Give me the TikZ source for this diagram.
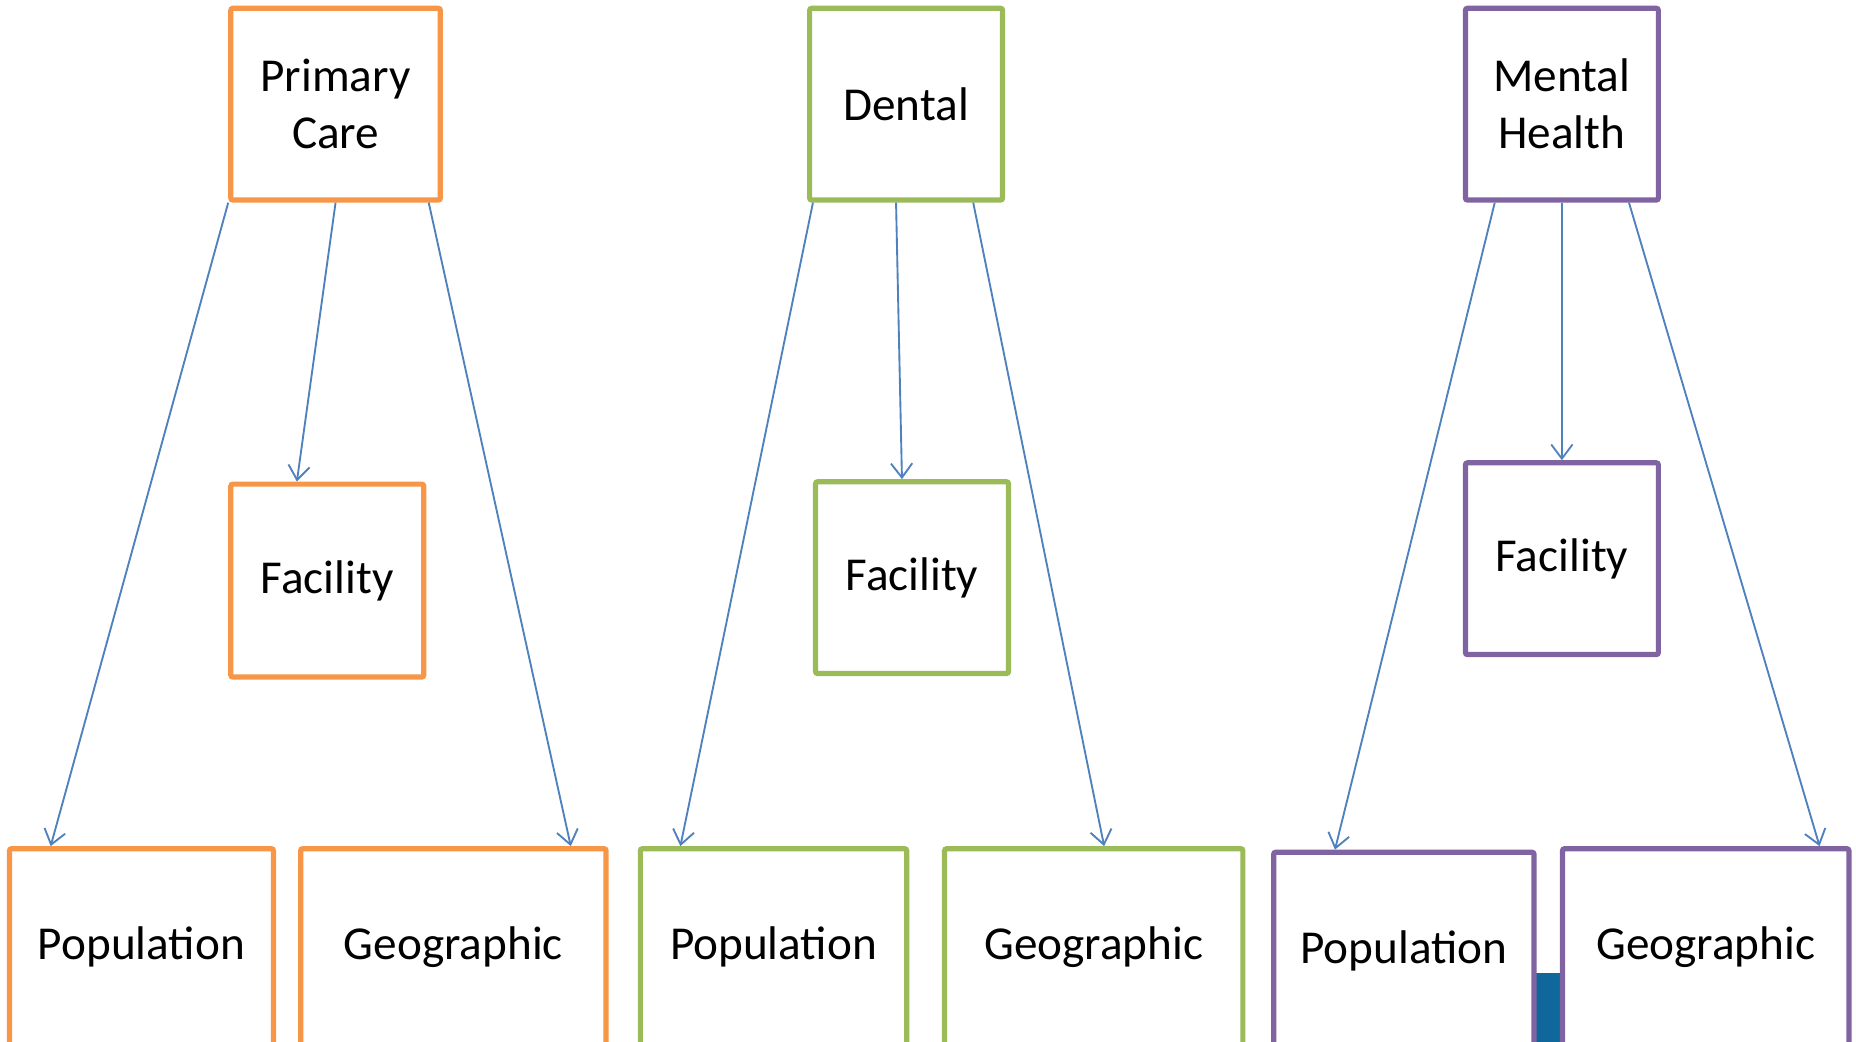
\documentclass[tikz,border=0pt]{standalone}
\usepackage{fontspec}
\setmainfont{Carlito}
\usetikzlibrary{arrows.meta,calc}
\definecolor{pcorange}{HTML}{F79646}
\definecolor{dngreen}{HTML}{9BBB59}
\definecolor{mhpurple}{HTML}{8064A2}
\definecolor{linkblue}{HTML}{4F81BD}
\definecolor{darkblue}{HTML}{10679C}
\begin{document}
\begin{tikzpicture}[
	box/.style={draw, line width=2.5pt, rounded corners=1pt, fill=white, align=center, inner sep=0pt,
		font=\fontsize{22.7}{27.3}\selectfont},
	link/.style={draw=linkblue, line width=0.9pt, ->},
	>={Straight Barb[length=0.24cm, width=0.36cm]}]
	\useasboundingbox (0,0) rectangle (31.36,-17.6);

	%primary care
	\begin{scope}[every node/.append style={box, draw=pcorange}]
		\node[minimum width=3.54cm, minimum height=3.24cm] (pc) at (5.67,-1.76) {Primary\\Care};
		\node[minimum width=3.26cm, minimum height=3.26cm] (pcfac) at (5.53,-9.81) {Facility};
		\node[minimum width=4.46cm, minimum height=3.32cm] (pcpop) at (2.39,-16.0) {Population};
		\node[minimum width=5.16cm, minimum height=3.32cm] (pcgeo) at (7.66,-16.0) {Geographic};
	\end{scope}
	\draw[link] (pc.south west) -- ($(pcpop.north west)+(0.74,0)$);
	\draw[link] (pc.south) -- ($(pcfac.north west)+(1.16,0)$);
	\draw[link] ($(pc.south east)+(-0.24,0)$) -- ($(pcgeo.north east)+(-0.64,0)$);

	%dental
	\begin{scope}[every node/.append style={box, draw=dngreen}]
		\node[minimum width=3.26cm, minimum height=3.24cm] (dn) at (15.31,-1.76) {Dental};
		\node[minimum width=3.26cm, minimum height=3.24cm] (dnfac) at (15.41,-9.76) {Facility};
		\node[minimum width=4.50cm, minimum height=3.32cm] (dnpop) at (13.07,-16.0) {Population};
		\node[minimum width=5.04cm, minimum height=3.32cm] (dngeo) at (18.48,-16.0) {Geographic};
	\end{scope}
	\draw[link] ($(dn.south west)+(0.1,0)$) -- ($(dnpop.north west)+(0.72,0)$);
	\draw[link] ($(dn.south)+(-0.17,0)$) -- ($(dnfac.north)+(-0.17,0)$);
	\draw[link] ($(dn.south east)+(-0.54,0)$) -- ($(dngeo.north west)+(2.74,0)$);

	%mental health
	\fill[darkblue] (25.92,-16.44) rectangle (26.40,-18.2);
	\begin{scope}[every node/.append style={box, draw=mhpurple}]
		\node[minimum width=3.26cm, minimum height=3.24cm] (mh) at (26.39,-1.76) {Mental\\Health};
		\node[minimum width=3.26cm, minimum height=3.24cm] (mhfac) at (26.39,-9.44) {Facility};
		\node[minimum width=4.40cm, minimum height=3.32cm] (mhpop) at (23.72,-16.06) {Population};
		\node[minimum width=4.84cm, minimum height=3.32cm] (mhgeo) at (28.82,-16.0) {Geographic};
	\end{scope}
	\draw[link] ($(mh.south west)+(0.54,0)$) -- ($(mhpop.north west)+(1.08,0)$);
	\draw[link] (mh.south) -- (mhfac.north);
	\draw[link] ($(mh.south east)+(-0.54,0)$) -- ($(mhgeo.north east)+(-0.54,0)$);
\end{tikzpicture}
\end{document}
